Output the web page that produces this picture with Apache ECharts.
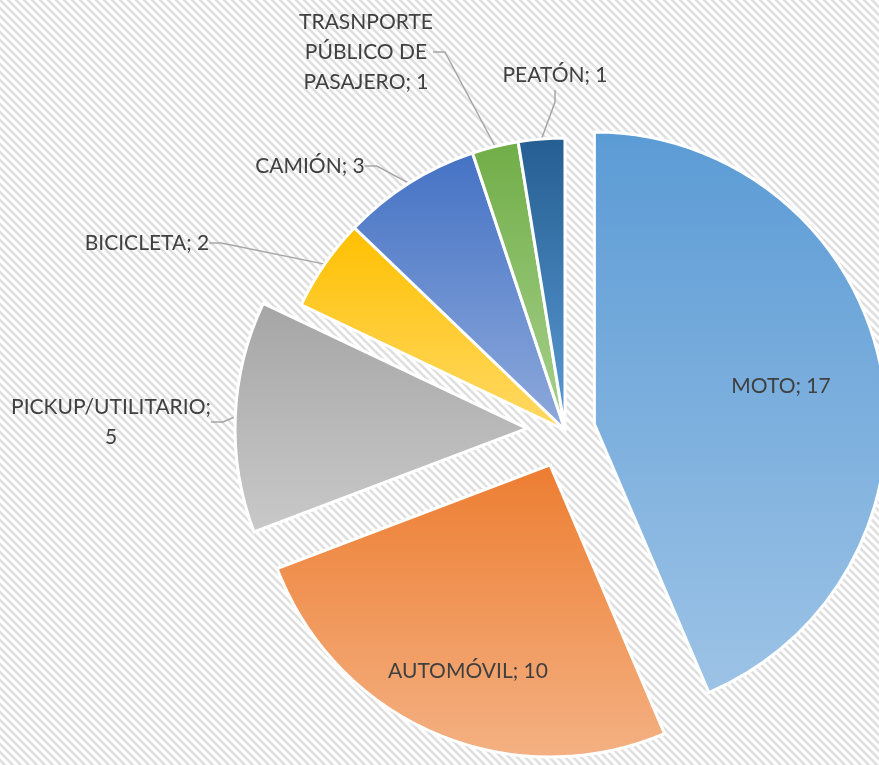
<!DOCTYPE html>
<html>
<head>
<meta charset="utf-8">
<script src="https://cdn.jsdelivr.net/npm/echarts@6/dist/echarts.min.js"></script>
<style>
  html, body { margin: 0; padding: 0; }
  #chart { width: 879px; height: 765px; }
</style>
</head>
<body>
<div id="chart"></div>
<script>
// datos del gráfico
const categories = ['MOTO', 'AUTOMÓVIL', 'PICKUP/UTILITARIO', 'BICICLETA', 'CAMIÓN', 'TRASNPORTE\nPÚBLICO DE\nPASAJERO', 'PEATÓN'];
const values = [17, 10, 5, 2, 3, 1, 1];

// estilos por porción
const topColors = ['#5B9BD5', '#ED7D31', '#A5A5A5', '#FFC000', '#4472C4', '#70AD47', '#255E91'];
const bottomColors = ['#9DC3E6', '#F4B183', '#C9C9C9', '#FFD966', '#8FAADC', '#A9D18E', '#5B9BD5'];
const explodeBy = [30, 38, 38, 0, 0, 0, 0];     // separación de cada porción, px
const inside = [true, true, false, false, false, false, false];
const valueSep = [' ', ' ', '\n', ' ', ' ', ' ', ' '];

// posición de las etiquetas (centro del texto)
const labelPos = [[781, 386], [468, 671], [111, 422], [147, 243], [310, 166], [366, 52], [555, 75]];

const CX = 565, CY = 430, R = 292;

// fondo rayado
const tile = document.createElement('canvas');
tile.width = 8; tile.height = 8;
const g = tile.getContext('2d');
g.fillStyle = '#ffffff';
g.fillRect(0, 0, 8, 8);
g.strokeStyle = '#dfdfdf';
g.lineWidth = 2.6;
for (let k = -1; k <= 1; k++) {
  g.beginPath();
  g.moveTo(-1, k * 8 - 1);
  g.lineTo(9, k * 8 + 9);
  g.stroke();
}

function grad(i) {
  return new echarts.graphic.LinearGradient(0, 0, 0, 1, [
    { offset: 0, color: topColors[i] },
    { offset: 1, color: bottomColors[i] }
  ]);
}

// cada serie dibuja solo las porciones de "shown"; las demás quedan transparentes
function buildData(shown) {
  return categories.map(function (name, i) {
    if (!shown(i)) {
      return {
        name: name, value: values[i],
        itemStyle: { color: 'rgba(0,0,0,0)', borderWidth: 0 },
        label: { show: false },
        labelLine: { show: false }
      };
    }
    return {
      name: name, value: values[i],
      itemStyle: { color: grad(i), borderColor: '#ffffff', borderWidth: 3 },
      label: {
        show: true,
        position: inside[i] ? 'inside' : 'outside',
        formatter: '{b};' + valueSep[i] + '{c}'
      },
      labelLine: { show: !inside[i] }
    };
  });
}

function makeSeries(center, shown) {
  return {
    type: 'pie',
    center: center,
    radius: R,
    startAngle: 90,
    clockwise: true,
    avoidLabelOverlap: false,
    silent: true,
    emphasis: { disabled: true },
    label: {
      color: '#404040',
      fontFamily: 'Lato',
      fontSize: 21,
      lineHeight: 30,
      align: 'center'
    },
    labelLine: {
      length: 10,
      length2: 12,
      lineStyle: { color: '#A6A6A6', width: 1.5 }
    },
    labelLayout: function (p) {
      const pos = labelPos[p.dataIndex];
      return { x: pos[0], y: pos[1], align: 'center', verticalAlign: 'middle' };
    },
    data: buildData(shown)
  };
}

// porciones sin separar en una serie, cada porción separada en la suya
const total = values.reduce(function (a, b) { return a + b; }, 0);
const series = [makeSeries([CX, CY], function (i) { return !explodeBy[i]; })];
let acc = 0;
values.forEach(function (v, i) {
  const mid = (acc + v / 2) / total * Math.PI * 2;
  acc += v;
  if (!explodeBy[i]) return;
  const c = [CX + explodeBy[i] * Math.sin(mid), CY - explodeBy[i] * Math.cos(mid)];
  series.push(makeSeries(c, function (j) { return j === i; }));
});

const chart = echarts.init(document.getElementById('chart'));
chart.setOption({
  animation: false,
  backgroundColor: { image: tile, repeat: 'repeat' },
  tooltip: { show: false },
  series: series
});
</script>
</body>
</html>
